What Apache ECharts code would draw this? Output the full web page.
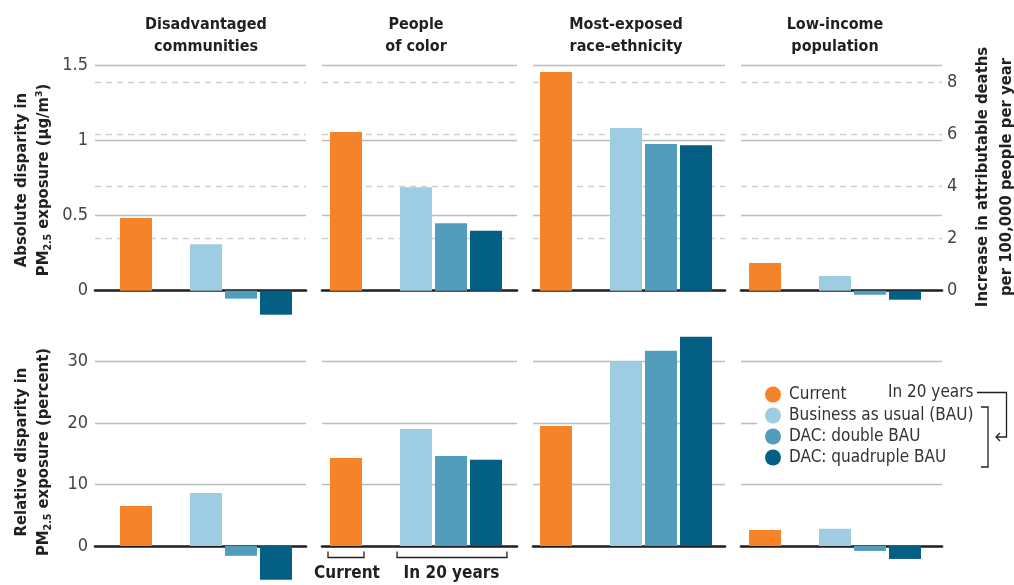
<!DOCTYPE html>
<html><head><meta charset="utf-8">
<script src="https://cdn.jsdelivr.net/npm/echarts@6/dist/echarts.min.js"></script>
<style>html,body{margin:0;padding:0;background:#fff}#c{width:1014px;height:585px}</style>
</head><body><div id="c"></div>
<script>
// ---- data ----
const groups = ['Disadvantaged\ncommunities', 'People\nof color', 'Most-exposed\nrace-ethnicity', 'Low-income\npopulation'];
const scenarios = ['Current', 'Business as usual (BAU)', 'DAC: double BAU', 'DAC: quadruple BAU'];
// absolute disparity in PM2.5 exposure (µg/m³)
const absCurrent = [0.485, 1.058, 1.458, 0.185];
const absBAU     = [0.31, 0.69, 1.085, 0.098];
const absDouble  = [-0.053, 0.45, 0.978, -0.027];
const absQuad    = [-0.16, 0.40, 0.97, -0.06];
// relative disparity (percent)
const relCurrent = [6.5, 14.3, 19.5, 2.6];
const relBAU     = [8.6, 19.0, 29.9, 2.8];
const relDouble  = [-1.6, 14.6, 31.7, -0.8];
const relQuad    = [-5.5, 14.0, 34.0, -2.1];
// tick labels
const absTicks = [0, 0.5, 1, 1.5];
const deathTicks = [0, 2, 4, 6, 8];
const relTicks = [0, 10, 20, 30];
const deathsPerUnit = 5.75; // deaths per 100,000 per µg/m³ (right axis scale)

// ---- style / layout ----
const colors = ['#F4832A', '#9ECCE3', '#519DBB', '#035F83'];
const FONT = "'Liberation Sans Narrow','DejaVu Sans Condensed','Roboto Condensed','Arial Narrow',sans-serif";
const panelLeft = [95, 322, 533, 741];
const panelRight = [306, 517, 725, 942];
const firstBar = [136, 346, 556, 765];
const pitch = 35;
const slot = [0, 2, 3, 4];
const rows = [{top: 65.7, height: 225}, {top: 361.3, height: 184.7}];

const absData = [absCurrent, absBAU, absDouble, absQuad];
const relData = [relCurrent, relBAU, relDouble, relQuad];

const grid = [], xAxis = [], yAxis = [], series = [];
const gridLine = {show: true, lineStyle: {color: '#bcbcbc', width: 1.3}};
const dashLine = {show: true, showMaxLine: false, showMinLine: false, lineStyle: {color: '#d0d0d0', width: 1.3, type: [6, 5]}};
const labelStyle = {fontFamily: FONT, fontSize: 18, color: '#444'};

for (let r = 0; r < 2; r++) {
  for (let p = 0; p < 4; p++) {
    const g = r * 4 + p;
    grid.push({left: panelLeft[p], width: panelRight[p] - panelLeft[p], top: rows[r].top, height: rows[r].height, containLabel: false});
    const mn = -(firstBar[p] - panelLeft[p]) / pitch;
    xAxis.push({type: 'value', gridIndex: g, min: mn, max: mn + (panelRight[p] - panelLeft[p]) / pitch,
      axisLine: {show: true, onZero: true, lineStyle: {color: '#231f20', width: 2.6}},
      axisTick: {show: false}, axisLabel: {show: false}, splitLine: {show: false}});
  }
}
// y axes: top-left (0..3), top-right (4..7), bottom (8..11)
for (let p = 0; p < 4; p++) {
  yAxis.push({type: 'value', gridIndex: p, position: 'left', min: absTicks[0], max: absTicks[absTicks.length - 1],
    interval: absTicks[1] - absTicks[0], axisLine: {show: false}, axisTick: {show: false},
    axisLabel: Object.assign({show: p === 0, margin: 7}, labelStyle), splitLine: gridLine});
}
for (let p = 0; p < 4; p++) {
  yAxis.push({type: 'value', gridIndex: p, position: 'right', min: deathTicks[0], max: absTicks[absTicks.length - 1] * deathsPerUnit,
    interval: deathTicks[1] - deathTicks[0], axisLine: {show: false}, axisTick: {show: false},
    axisLabel: Object.assign({show: p === 3, margin: 5, showMaxLabel: false}, labelStyle), splitLine: dashLine});
}
for (let p = 0; p < 4; p++) {
  yAxis.push({type: 'value', gridIndex: 4 + p, position: 'left', min: relTicks[0], max: relTicks[relTicks.length - 1],
    interval: relTicks[1] - relTicks[0], axisLine: {show: false}, axisTick: {show: false},
    axisLabel: Object.assign({show: p === 0, margin: 7}, labelStyle), splitLine: gridLine});
}

for (let r = 0; r < 2; r++) {
  const src = r === 0 ? absData : relData;
  for (let p = 0; p < 4; p++) {
    const g = r * 4 + p;
    for (let k = 0; k < 4; k++) {
      series.push({type: 'bar', name: scenarios[k], xAxisIndex: g, yAxisIndex: r === 0 ? p : 8 + p,
        data: [[slot[k], src[k][p]]], barWidth: 32, barGap: '-100%', clip: false, silent: true,
        itemStyle: {color: colors[k]}, z: 3});
    }
  }
}

const titleFont = 'bold 16px ' + FONT;
const axisTitleFont = 'bold 16.5px ' + FONT;
const graphic = [];
for (let p = 0; p < 4; p++) {
  graphic.push({type: 'text', x: firstBar[p] + 2 * pitch, y: 36, z: 100,
    style: {text: groups[p], font: titleFont, fill: '#231f20', textAlign: 'center', textVerticalAlign: 'middle', lineHeight: 22}});
}
const subRich = {s: {fontFamily: FONT, fontWeight: 'bold', fontSize: 10.5, fill: '#231f20', padding: [8, 0, 0, 0]}};
graphic.push({type: 'text', x: 33, y: 180, rotation: Math.PI / 2, z: 100,
  style: {text: 'Absolute disparity in\nPM{s|2.5} exposure (µg/m³)', rich: subRich, font: axisTitleFont, fill: '#231f20', textAlign: 'center', textVerticalAlign: 'middle', lineHeight: 22}});
graphic.push({type: 'text', x: 33, y: 452, rotation: Math.PI / 2, z: 100,
  style: {text: 'Relative disparity in\nPM{s|2.5} exposure (percent)', rich: subRich, font: axisTitleFont, fill: '#231f20', textAlign: 'center', textVerticalAlign: 'middle', lineHeight: 22}});
graphic.push({type: 'text', x: 995, y: 177, rotation: Math.PI / 2, z: 100,
  style: {text: 'Increase in attributable deaths\nper 100,000 people per year', font: axisTitleFont, fill: '#231f20', textAlign: 'center', textVerticalAlign: 'middle', lineHeight: 24}});
// legend annotation
graphic.push({type: 'text', x: 888, y: 393, z: 100,
  style: {text: 'In 20 years', font: '17px ' + FONT, fill: '#333', textAlign: 'left', textVerticalAlign: 'middle'}});
const bracketStyle = {stroke: '#231f20', lineWidth: 1.3, fill: null};
graphic.push({type: 'polyline', z: 100, shape: {points: [[977, 392.5], [1006.5, 392.5], [1006.5, 437], [996, 437]]}, style: bracketStyle});
graphic.push({type: 'polyline', z: 100, shape: {points: [[1000, 433], [996, 437], [1000, 441]]}, style: bracketStyle});
graphic.push({type: 'polyline', z: 100, shape: {points: [[981, 407], [988, 407], [988, 467], [981, 467]]}, style: bracketStyle});
// bottom brackets under "People of color"
const cx = firstBar[1];
graphic.push({type: 'polyline', z: 100, shape: {points: [[cx - 18, 551.5], [cx - 18, 557.5], [cx + 18, 557.5], [cx + 18, 551.5]]}, style: bracketStyle});
graphic.push({type: 'polyline', z: 100, shape: {points: [[cx + 2 * pitch - 19, 551.5], [cx + 2 * pitch - 19, 557.5], [cx + 4 * pitch + 21, 557.5], [cx + 4 * pitch + 21, 551.5]]}, style: bracketStyle});
graphic.push({type: 'text', x: cx + 1, y: 574, z: 100, style: {text: 'Current', font: 'bold 17px ' + FONT, fill: '#231f20', textAlign: 'center', textVerticalAlign: 'middle'}});
graphic.push({type: 'text', x: cx + 3 * pitch + 0.5, y: 574, z: 100, style: {text: 'In 20 years', font: 'bold 17px ' + FONT, fill: '#231f20', textAlign: 'center', textVerticalAlign: 'middle'}});

const chart = echarts.init(document.getElementById('c'), null, {renderer: 'canvas'});
chart.setOption({
  animation: false,
  backgroundColor: '#fff',
  grid, xAxis, yAxis, series, graphic,
  legend: {data: scenarios, orient: 'vertical', left: 757, top: 381, icon: 'circle', itemWidth: 16, itemHeight: 16,
    itemGap: 4, backgroundColor: '#fff', padding: [5, 8, 5, 8], selectedMode: false,
    textStyle: {fontFamily: FONT, fontSize: 17, lineHeight: 17, color: '#333', padding: [0, 0, 0, 3]}}
});
</script>
</body></html>
